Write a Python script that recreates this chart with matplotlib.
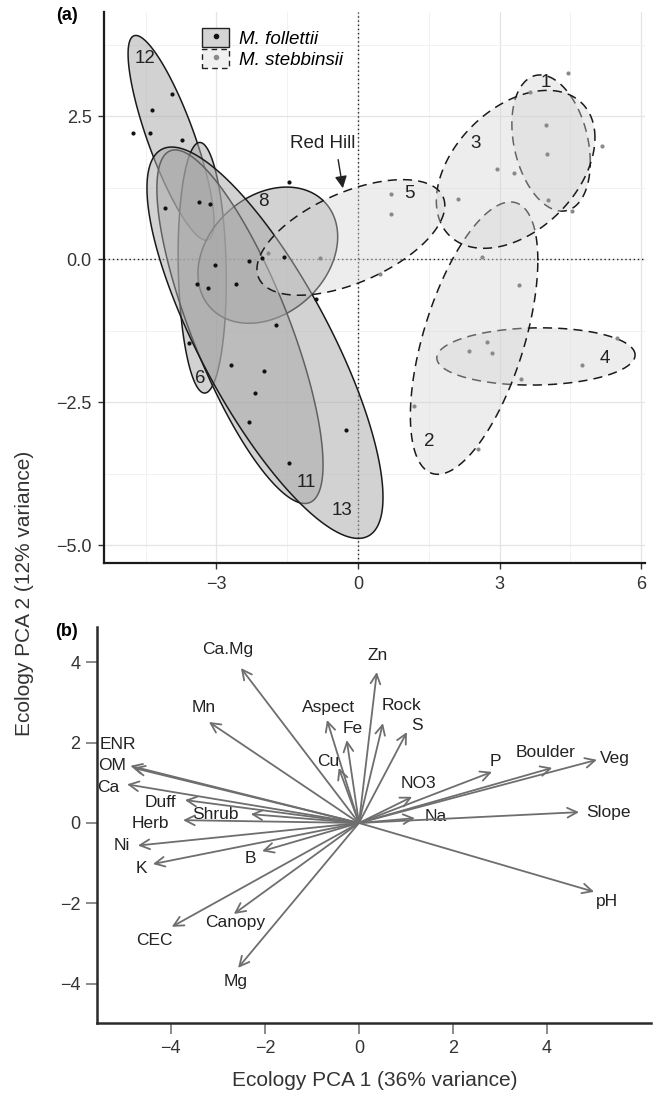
import numpy as np
import matplotlib.pyplot as plt
from matplotlib.patches import Patch
from matplotlib.lines import Line2D
from matplotlib.legend_handler import HandlerTuple

plt.rcParams['font.family'] = ['Liberation Sans', 'DejaVu Sans']

# ---- panel (a): site scores ----
fol_x = [-3.94, -4.36, -4.77, -4.40, -3.73, -1.46, -4.09, -3.37, -3.14, -1.57, -2.31, -3.03, -2.03,
         -3.41, -3.18, -2.58, -0.89, -1.73, -3.58, -2.69, -1.99, -2.18, -2.31, -1.46, -0.25]
fol_y = [2.88, 2.61, 2.21, 2.21, 2.09, 1.35, 0.89, 1.00, 0.96, 0.04, -0.03, -0.11, 0.02,
         -0.43, -0.50, -0.43, -0.69, -1.15, -1.47, -1.85, -1.96, -2.34, -2.85, -3.57, -2.99]
ste_x = [-1.90, -0.80, 4.45, 3.64, 3.98, 5.17, 4.00, 2.94, 3.31, 4.03, 4.53, 2.12, 0.70,
         0.70, 2.63, 0.47, 3.41, 5.49, 2.73, 2.35, 2.84, 4.75, 3.45, 1.19, 2.54]
ste_y = [0.10, 0.02, 3.25, 2.92, 2.34, 1.98, 1.83, 1.57, 1.50, 1.03, 0.84, 1.05, 1.14,
         0.79, 0.03, -0.26, -0.45, -1.38, -1.45, -1.61, -1.64, -1.85, -2.10, -2.57, -3.32]

# population ellipses: centre, half extents along x / y, correlation
fol_pop = ['12', '6', '8', '11', '13']
fol_cx = [-3.96, -3.30, -1.91, -2.50, -1.97]
fol_cy = [2.12, -0.15, 0.07, -1.18, -1.46]
fol_sx = [0.91, 0.51, 1.48, 1.76, 2.50]
fol_sy = [1.79, 2.19, 1.19, 3.09, 3.42]
fol_r = [-0.82, -0.10, 0.27, -0.78, -0.79]
fol_lab_x = [-4.51, -3.35, -2.01, -1.10, -0.34]
fol_lab_y = [3.51, -2.08, 1.01, -3.90, -4.39]

ste_pop = ['1', '4', '2', '3', '5']
ste_cx = [4.09, 3.77, 2.46, 3.34, -0.15]
ste_cy = [2.03, -1.70, -1.38, 1.57, 0.38]
ste_sx = [0.83, 2.10, 1.35, 1.68, 1.99]
ste_sy = [1.19, 0.50, 2.38, 1.38, 1.01]
ste_r = [-0.28, 0.05, 0.57, 0.40, 0.55]
ste_lab_x = [3.98, 5.23, 1.50, 2.50, 1.08]
ste_lab_y = [3.08, -1.73, -3.18, 2.03, 1.15]

# ---- panel (b): variable loadings ----
var_names = ['Ca.Mg', 'Mn', 'Aspect', 'Fe', 'Cu', 'ENR', 'OM', 'Ca', 'Duff', 'Shrub', 'Herb',
             'Ni', 'K', 'B', 'CEC', 'Canopy', 'Mg', 'Zn', 'Rock', 'S', 'P', 'Boulder',
             'Veg', 'NO3', 'Na', 'Slope', 'pH']
var_x = [-2.51, -3.19, -0.68, -0.26, -0.43, -4.86, -4.80, -4.93, -3.70, -2.30, -3.74,
         -4.70, -4.38, -2.06, -3.98, -2.66, -2.57, 0.38, 0.51, 1.02, 2.83, 4.11,
         5.06, 1.13, 1.19, 4.68, 5.00]
var_y = [3.85, 2.51, 2.56, 2.06, 1.37, 1.42, 1.37, 0.96, 0.57, 0.22, 0.07,
         -0.56, -1.02, -0.70, -2.58, -2.26, -3.60, 3.75, 2.48, 2.26, 1.27, 1.37,
         1.57, 0.65, 0.12, 0.27, -1.71]
lab_x = [-2.79, -3.30, -0.64, -0.13, -0.66, -5.13, -5.26, -5.34, -4.23, -3.06, -4.43,
         -5.04, -4.62, -2.30, -4.36, -2.64, -2.62, 0.40, 0.91, 1.23, 2.91, 3.96,
         5.45, 1.26, 1.64, 5.30, 5.28]
lab_y = [4.30, 2.86, 2.86, 2.36, 1.52, 1.96, 1.44, 0.89, 0.50, 0.22, -0.02,
         -0.57, -1.12, -0.89, -2.93, -2.48, -3.95, 4.15, 2.93, 2.41, 1.52, 1.76,
         1.59, 0.97, 0.15, 0.25, -1.94]


def ellipse_xy(cx, cy, sx, sy, r, n=240):
    t = np.linspace(0, 2 * np.pi, n)
    x = cx + sx * np.cos(t)
    y = cy + sy * (r * np.cos(t) + np.sqrt(1 - r * r) * np.sin(t))
    return x, y


fig = plt.figure(figsize=(6.56, 10.96), dpi=100)
W, H = 656.0, 1096.0
ax1 = fig.add_axes([104 / W, 1 - 563 / H, (645 - 104) / W, (563 - 12) / H])
ax2 = fig.add_axes([97 / W, 1 - 1023 / H, (651 - 97) / W, (1023 - 627) / H])

# ---------- panel (a) ----------
ax1.set_xlim(-5.38, 6.08)
ax1.set_ylim(-5.31, 4.32)
ax1.set_xticks([-3, 0, 3, 6])
ax1.set_xticks([-4.5, -1.5, 1.5, 4.5], minor=True)
ax1.set_yticks([-5, -2.5, 0, 2.5])
ax1.set_yticks([-3.75, -1.25, 1.25, 3.75], minor=True)
ax1.set_yticklabels(['\u22125.0', '\u22122.5', '0.0', '2.5'])
ax1.grid(which='major', color='#e4e4e4', lw=0.9)
ax1.grid(which='minor', color='#f0f0f0', lw=0.6)
ax1.set_axisbelow(True)
ax1.tick_params(which='minor', length=0)
ax1.tick_params(which='major', length=4, width=1, color='#333333', labelsize=13,
                labelcolor='#333333', pad=5)
for s in ['top', 'right']:
    ax1.spines[s].set_visible(False)
for s in ['left', 'bottom']:
    ax1.spines[s].set_linewidth(1.6)
    ax1.spines[s].set_color('#1a1a1a')

ax1.axhline(0, color='#222222', ls=(0, (1, 2)), lw=1, zorder=1)
ax1.axvline(0, color='#222222', ls=(0, (1, 2)), lw=1, zorder=1)

fol_fill = (0.655, 0.655, 0.655, 0.5)
ste_fill = (0.83, 0.83, 0.83, 0.4)
for i in range(len(fol_pop)):
    ex, ey = ellipse_xy(fol_cx[i], fol_cy[i], fol_sx[i], fol_sy[i], fol_r[i])
    ax1.fill(ex, ey, facecolor=fol_fill, edgecolor='#1a1a1a', lw=1.1, zorder=2)
for i in range(len(ste_pop)):
    ex, ey = ellipse_xy(ste_cx[i], ste_cy[i], ste_sx[i], ste_sy[i], ste_r[i])
    ax1.fill(ex, ey, facecolor=ste_fill, edgecolor='#1a1a1a', lw=1.1,
             ls=(0, (6, 4)), zorder=2)

ax1.scatter(fol_x, fol_y, s=9, color='#111111', zorder=4, linewidths=0)
ax1.scatter(ste_x, ste_y, s=9, color='#8a8a8a', zorder=4, linewidths=0)

for i in range(len(fol_pop)):
    ax1.text(fol_lab_x[i], fol_lab_y[i], fol_pop[i], fontsize=13.5, color='#222222',
             ha='center', va='center', zorder=5)
for i in range(len(ste_pop)):
    ax1.text(ste_lab_x[i], ste_lab_y[i], ste_pop[i], fontsize=13.5, color='#222222',
             ha='center', va='center', zorder=5)

ax1.text(-0.74, 2.03, 'Red Hill', fontsize=13.5, color='#222222', ha='center', va='center')
ax1.annotate('', xy=(-0.32, 1.24), xytext=(-0.42, 1.74),
             arrowprops=dict(arrowstyle='-|>,head_length=0.6,head_width=0.3',
                             color='#222222', lw=1, shrinkA=0, shrinkB=0,
                             mutation_scale=12))

h_fol = (Patch(facecolor=(0.83, 0.83, 0.83), edgecolor='#222222', lw=1),
         Line2D([], [], marker='o', ls='', color='#111111', markersize=3))
h_ste = (Patch(facecolor=(0.94, 0.94, 0.94), edgecolor='#222222', lw=1, ls=(0, (4, 3))),
         Line2D([], [], marker='o', ls='', color='#8a8a8a', markersize=3))
leg = ax1.legend([h_fol, h_ste], ['M. follettii', 'M. stebbinsii'],
                 handler_map={tuple: HandlerTuple(ndivide=1)},
                 loc='upper left', bbox_to_anchor=(0.181, 0.971), frameon=False,
                 borderpad=0, borderaxespad=0, labelspacing=0.05, handlelength=1.45,
                 handleheight=1.2, handletextpad=0.55,
                 prop={'size': 13.5, 'style': 'italic'})

fig.text(67 / W, 1 - 15 / H, '(a)', fontsize=13, fontweight='bold', ha='center', va='center')

# ---------- panel (b) ----------
ax2.set_xlim(-5.57, 6.21)
ax2.set_ylim(-4.97, 4.87)
ax2.set_xticks([-4, -2, 0, 2, 4])
ax2.set_yticks([-4, -2, 0, 2, 4])
ax2.set_xticklabels(['\u22124', '\u22122', '0', '2', '4'])
ax2.set_yticklabels(['\u22124', '\u22122', '0', '2', '4'])
ax2.tick_params(length=8, width=1.2, color='#777777', labelsize=13,
                labelcolor='#333333', pad=4)
for s in ['top', 'right']:
    ax2.spines[s].set_visible(False)
for s in ['left', 'bottom']:
    ax2.spines[s].set_linewidth(1.8)
    ax2.spines[s].set_color('#2a2a2a')

for i in range(len(var_names)):
    ax2.annotate('', xy=(var_x[i], var_y[i]), xytext=(0, 0),
                 arrowprops=dict(arrowstyle='->,head_length=0.7,head_width=0.35',
                                 color='#6e6e6e', lw=1.3, shrinkA=0, shrinkB=0,
                                 mutation_scale=10))
    ax2.text(lab_x[i], lab_y[i], var_names[i], fontsize=12.5, color='#222222',
             ha='center', va='center')

fig.text(67 / W, 1 - 632 / H, '(b)', fontsize=13, fontweight='bold', ha='center', va='center')

fig.text(25 / W, 1 - 593 / H, 'Ecology PCA 2 (12% variance)', rotation=90, fontsize=15,
         color='#333333', ha='center', va='center')
fig.text(375 / W, 1 - 1081 / H, 'Ecology PCA 1 (36% variance)', fontsize=15,
         color='#333333', ha='center', va='center')

fig.savefig('out.png', dpi=100)
